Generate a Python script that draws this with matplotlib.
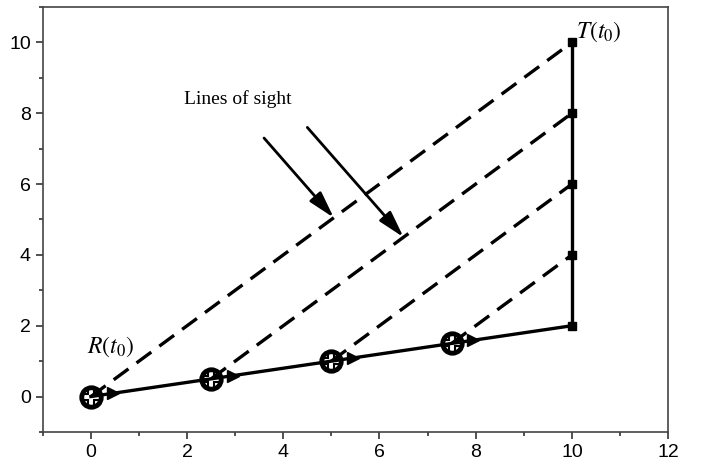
import matplotlib
matplotlib.use('Agg')
import matplotlib.pyplot as plt
from matplotlib.ticker import MultipleLocator
import numpy as np

plt.rcParams['mathtext.fontset'] = 'stix'
plt.rcParams['font.family'] = ['Liberation Sans', 'DejaVu Sans']

# receiver positions R(t) and target positions T(t)
rx = [0, 2.5, 5, 7.5, 10]
ry = [0, 0.5, 1, 1.5, 2]
tx = [10, 10, 10, 10, 10]
ty = [10, 8, 6, 4, 2]

# lines of sight annotation
los_label = 'Lines of sight'
los_text_xy = (3.05, 8.15)
arrow_starts = [(3.6, 7.3), (4.5, 7.6)]
arrow_ends = [(5.05, 5.05), (6.5, 4.5)]

fig = plt.figure(figsize=(7.13, 4.68), dpi=100)
ax = fig.add_axes([0.060, 0.077, 0.877, 0.908])

# dashed lines of sight (R_i -> T_i)
for i in range(4):
    ax.plot([rx[i], tx[i]], [ry[i], ty[i]], color='black', lw=2.4,
            dashes=(5.5, 3), zorder=2)

# receiver path
ax.plot(rx, ry, color='black', lw=2.4, zorder=3)
# target path
ax.plot(tx, ty, color='black', lw=2.4, zorder=3)
ax.plot(tx, ty, 's', color='black', ms=6, zorder=4)

# receiver markers with small arrowheads pointing along the path
ax.plot(rx[:4], ry[:4], 'o', mfc='none', mec='black', ms=14, mew=3.5, zorder=5)
ax.plot(rx[:4], ry[:4], 'P', mfc='none', mec='black', ms=13, mew=1.5, zorder=5)
rx_a = np.array(rx[:4])
ry_a = np.array(ry[:4])
ax.plot(rx_a + 0.45, ry_a + 0.09, '>', color='black', ms=9, zorder=5)

# labels
ax.text(-0.08, 1.05, r'$R(t_0)$', fontsize=17, ha='left', va='bottom')
ax.text(10.08, 9.95, r'$T(t_0)$', fontsize=17, ha='left', va='bottom')
ax.text(los_text_xy[0], los_text_xy[1], los_label, fontsize=14,
        family='Liberation Serif', ha='center', va='bottom')
for s, e in zip(arrow_starts, arrow_ends):
    ax.annotate('', xy=e, xytext=s,
                arrowprops=dict(arrowstyle='-|>,head_length=0.9,head_width=0.25',
                                color='black', lw=2,
                                mutation_scale=18, shrinkA=0, shrinkB=0))

ax.set_xlim(-1, 12)
ax.set_ylim(-1, 11)
ax.xaxis.set_major_locator(MultipleLocator(2))
ax.xaxis.set_minor_locator(MultipleLocator(1))
ax.yaxis.set_major_locator(MultipleLocator(2))
ax.yaxis.set_minor_locator(MultipleLocator(1))
ax.tick_params(which='major', length=5, width=1.2, labelsize=14, color='#333333')
ax.tick_params(which='minor', length=3, width=1.2, color='#333333')
for sp in ax.spines.values():
    sp.set_color('#444444')
    sp.set_linewidth(1.2)

fig.savefig('out.png', dpi=100)
